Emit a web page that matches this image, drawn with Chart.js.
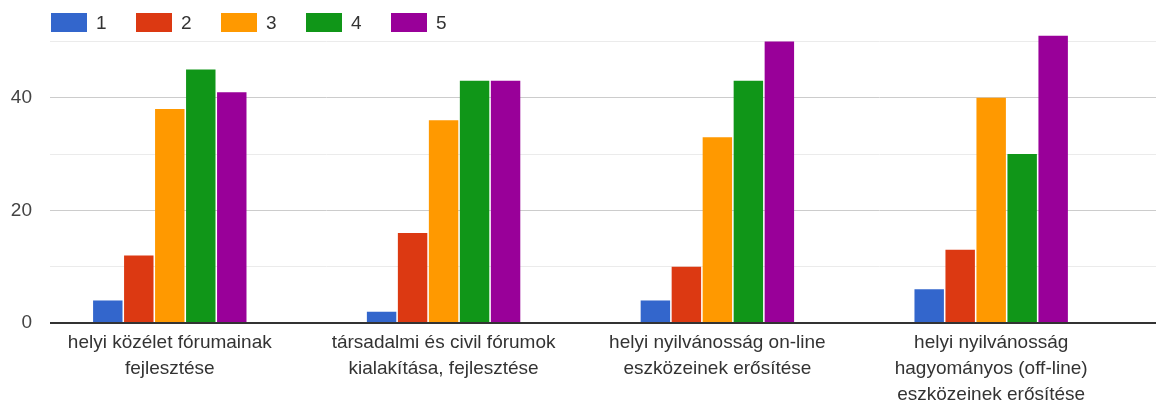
<!DOCTYPE html>
<html>
<head>
<meta charset="utf-8">
<script src="https://cdn.jsdelivr.net/npm/chart.js@4"></script>
<style>
    body { margin: 0; background: #fff; }
    #wrap { position: relative; width: 1156px; height: 401px; }
    #legend { position: absolute; top: 13px; left: 51px; display: flex; font: 19px "Liberation Sans", Arial, sans-serif; color: #333; }
    .item { display: flex; align-items: center; width: 85px; height: 19px; }
    .box { width: 36px; height: 19px; margin-right: 9px; }
</style>
</head>
<body>
<div id="wrap">
    <canvas id="barChart"></canvas>
    <div id="legend"></div>
</div>
<script>
////// data //////
const categories = [
    ['helyi közélet fórumainak', 'fejlesztése'],
    ['társadalmi és civil fórumok', 'kialakítása, fejlesztése'],
    ['helyi nyilvánosság on-line', 'eszközeinek erősítése'],
    ['helyi nyilvánosság', 'hagyományos (off-line)', 'eszközeinek erősítése']
];
const seriesNames = ['1', '2', '3', '4', '5'];
const rating1 = [4, 2, 4, 6];
const rating2 = [12, 16, 10, 13];
const rating3 = [38, 36, 33, 40];
const rating4 = [45, 43, 43, 30];
const rating5 = [41, 43, 50, 51];
const yTicks = [0, 10, 20, 30, 40, 50];
const yLabelled = [0, 20, 40];

const colors = ['#3366cc', '#dc3912', '#ff9900', '#109618', '#990099'];
const allSeries = [rating1, rating2, rating3, rating4, rating5];

////// legend //////
const legendBox = document.querySelector('#legend');
seriesNames.forEach((name, i) => {
    const item = document.createElement('div');
    item.className = 'item';
    item.innerHTML = '<span class="box" style="background:' + colors[i] + '"></span>' + name;
    legendBox.appendChild(item);
});

////// chart //////
const font = { family: '"Liberation Sans", Arial, sans-serif', size: 19 };

let barChart = new Chart(document.querySelector('#barChart'), {
    type: 'bar',
    data: {
        datasets: allSeries.map((values, i) => ({
            label: seriesNames[i],
            data: values.map((v, k) => ({ x: k, y: v })),
            backgroundColor: colors[i],
            categoryPercentage: 0.566,
            barPercentage: 0.95
        }))
    },
    options: {
        responsive: true,
        maintainAspectRatio: false,
        animation: false,
        layout: { padding: { top: 33, left: 0, right: 0, bottom: 0 } },
        plugins: { legend: { display: false }, tooltip: { enabled: false } },
        scales: {
            x: {
                type: 'linear',
                offset: false,
                min: -0.4375,
                max: 3.602,
                afterBuildTicks: s => { s.ticks = categories.map((c, k) => ({ value: k })); },
                afterFit: s => { s.height = 78; },
                grid: { display: false, drawTicks: false },
                border: { display: false },
                ticks: {
                    autoSkip: false,
                    maxRotation: 0,
                    padding: 7,
                    color: '#333',
                    font: { ...font, lineHeight: '26px' },
                    callback: v => categories[v]
                }
            },
            y: {
                min: 0,
                max: 51.5,
                afterBuildTicks: s => { s.ticks = yTicks.map(v => ({ value: v })); },
                afterFit: s => { s.width = 50; },
                border: { display: false },
                grid: {
                    drawTicks: false,
                    lineWidth: c => c.tick.value === 0 ? 2 : 1,
                    color: c => c.tick.value === 0 ? '#333333' : (yLabelled.includes(c.tick.value) ? '#cccccc' : '#ebebeb')
                },
                ticks: {
                    padding: 18,
                    color: '#444',
                    font: font,
                    callback: v => yLabelled.includes(v) ? v : ''
                }
            }
        }
    }
});
</script>
</body>
</html>
